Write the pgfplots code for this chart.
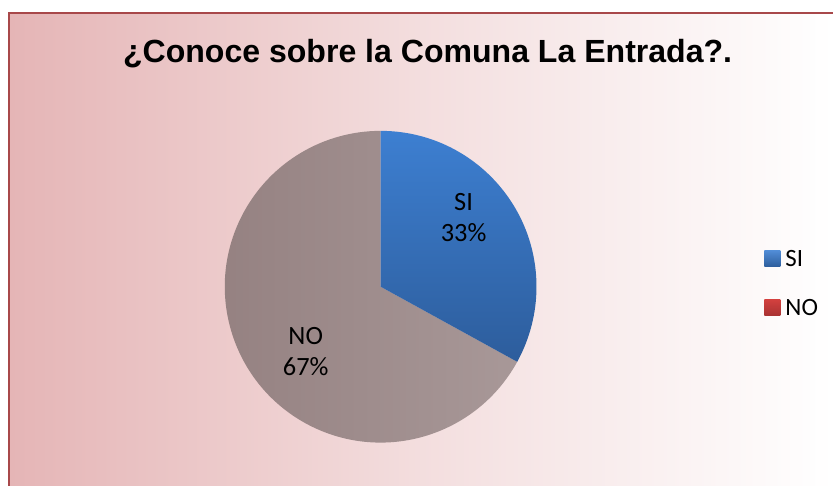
\documentclass[border=0pt]{standalone}
\usepackage{pgfplots}
\pgfplotsset{compat=1.18}
\usepackage{pgfplotstable}
\usepackage{fontspec}
\setmainfont{Carlito}
\newfontfamily\titlefont{Liberation Sans}

\definecolor{bgpink}{HTML}{E5B5B6}
\definecolor{framered}{HTML}{A8484A}
\definecolor{sitop}{HTML}{3D7FD1}
\definecolor{sibot}{HTML}{2D5D9C}
\definecolor{noleft}{HTML}{948080}
\definecolor{noright}{HTML}{A89898}
\definecolor{notop}{HTML}{D2403E}
\definecolor{nobot}{HTML}{A83232}

\pgfplotstableread{
label value
SI 33
NO 67
}\piedata

\begin{document}
\begin{tikzpicture}
\pgfplotstablegetelem{0}{value}\of\piedata \let\vsi\pgfplotsretval
\pgfplotstablegetelem{1}{value}\of\piedata \let\vno\pgfplotsretval
\pgfmathsetmacro\aend{90-3.6*\vsi}
\begin{axis}[
    x=1bp, y=1bp,
    xmin=0, xmax=834, ymin=0, ymax=486,
    scale only axis,
    hide axis,
    clip=false,
  ]
  % fond
  \fill[white] (axis cs:0,0) rectangle (axis cs:834,486);
  \shade[left color=bgpink, right color=white, middle color=bgpink!45] (axis cs:9,0) rectangle (axis cs:834,473);
  \draw[framered, line width=1.6bp] (axis cs:9,0) -- (axis cs:9,473) -- (axis cs:834,473);

  % titre
  \node[anchor=base, font=\titlefont\bfseries\fontsize{32.2}{36}\selectfont]
    at (axis cs:428,423) {¿Conoce sobre la Comuna La Entrada?.};

  % secteurs
  \shade[left color=noleft, right color=noright]
    (axis cs:381,199) -- ++(\aend:156bp) arc[start angle=\aend, end angle=-270, radius=156bp] -- cycle;
  \shade[top color=sitop, bottom color=sibot]
    (axis cs:381,199) -- (axis cs:381,355) arc[start angle=90, end angle=\aend, radius=156bp] -- cycle;

  % etiquettes
  \node[align=center, font=\fontsize{26.5}{31}\selectfont] at (axis cs:464,268) {SI\\\vsi\%};
  \node[align=center, font=\fontsize{26.5}{31}\selectfont] at (axis cs:306,134) {NO\\\vno\%};

  % legende
  \shade[top color=sitop!90!white, bottom color=sibot] (axis cs:765,219) rectangle (axis cs:781,235);
  \shade[top color=notop, bottom color=nobot] (axis cs:765,170) rectangle (axis cs:781,186);
  \node[anchor=west, inner sep=0, font=\fontsize{25}{28}\selectfont] at (axis cs:786,227) {SI};
  \node[anchor=west, inner sep=0, font=\fontsize{25}{28}\selectfont] at (axis cs:786,178) {NO};
\end{axis}
\end{tikzpicture}
\end{document}
